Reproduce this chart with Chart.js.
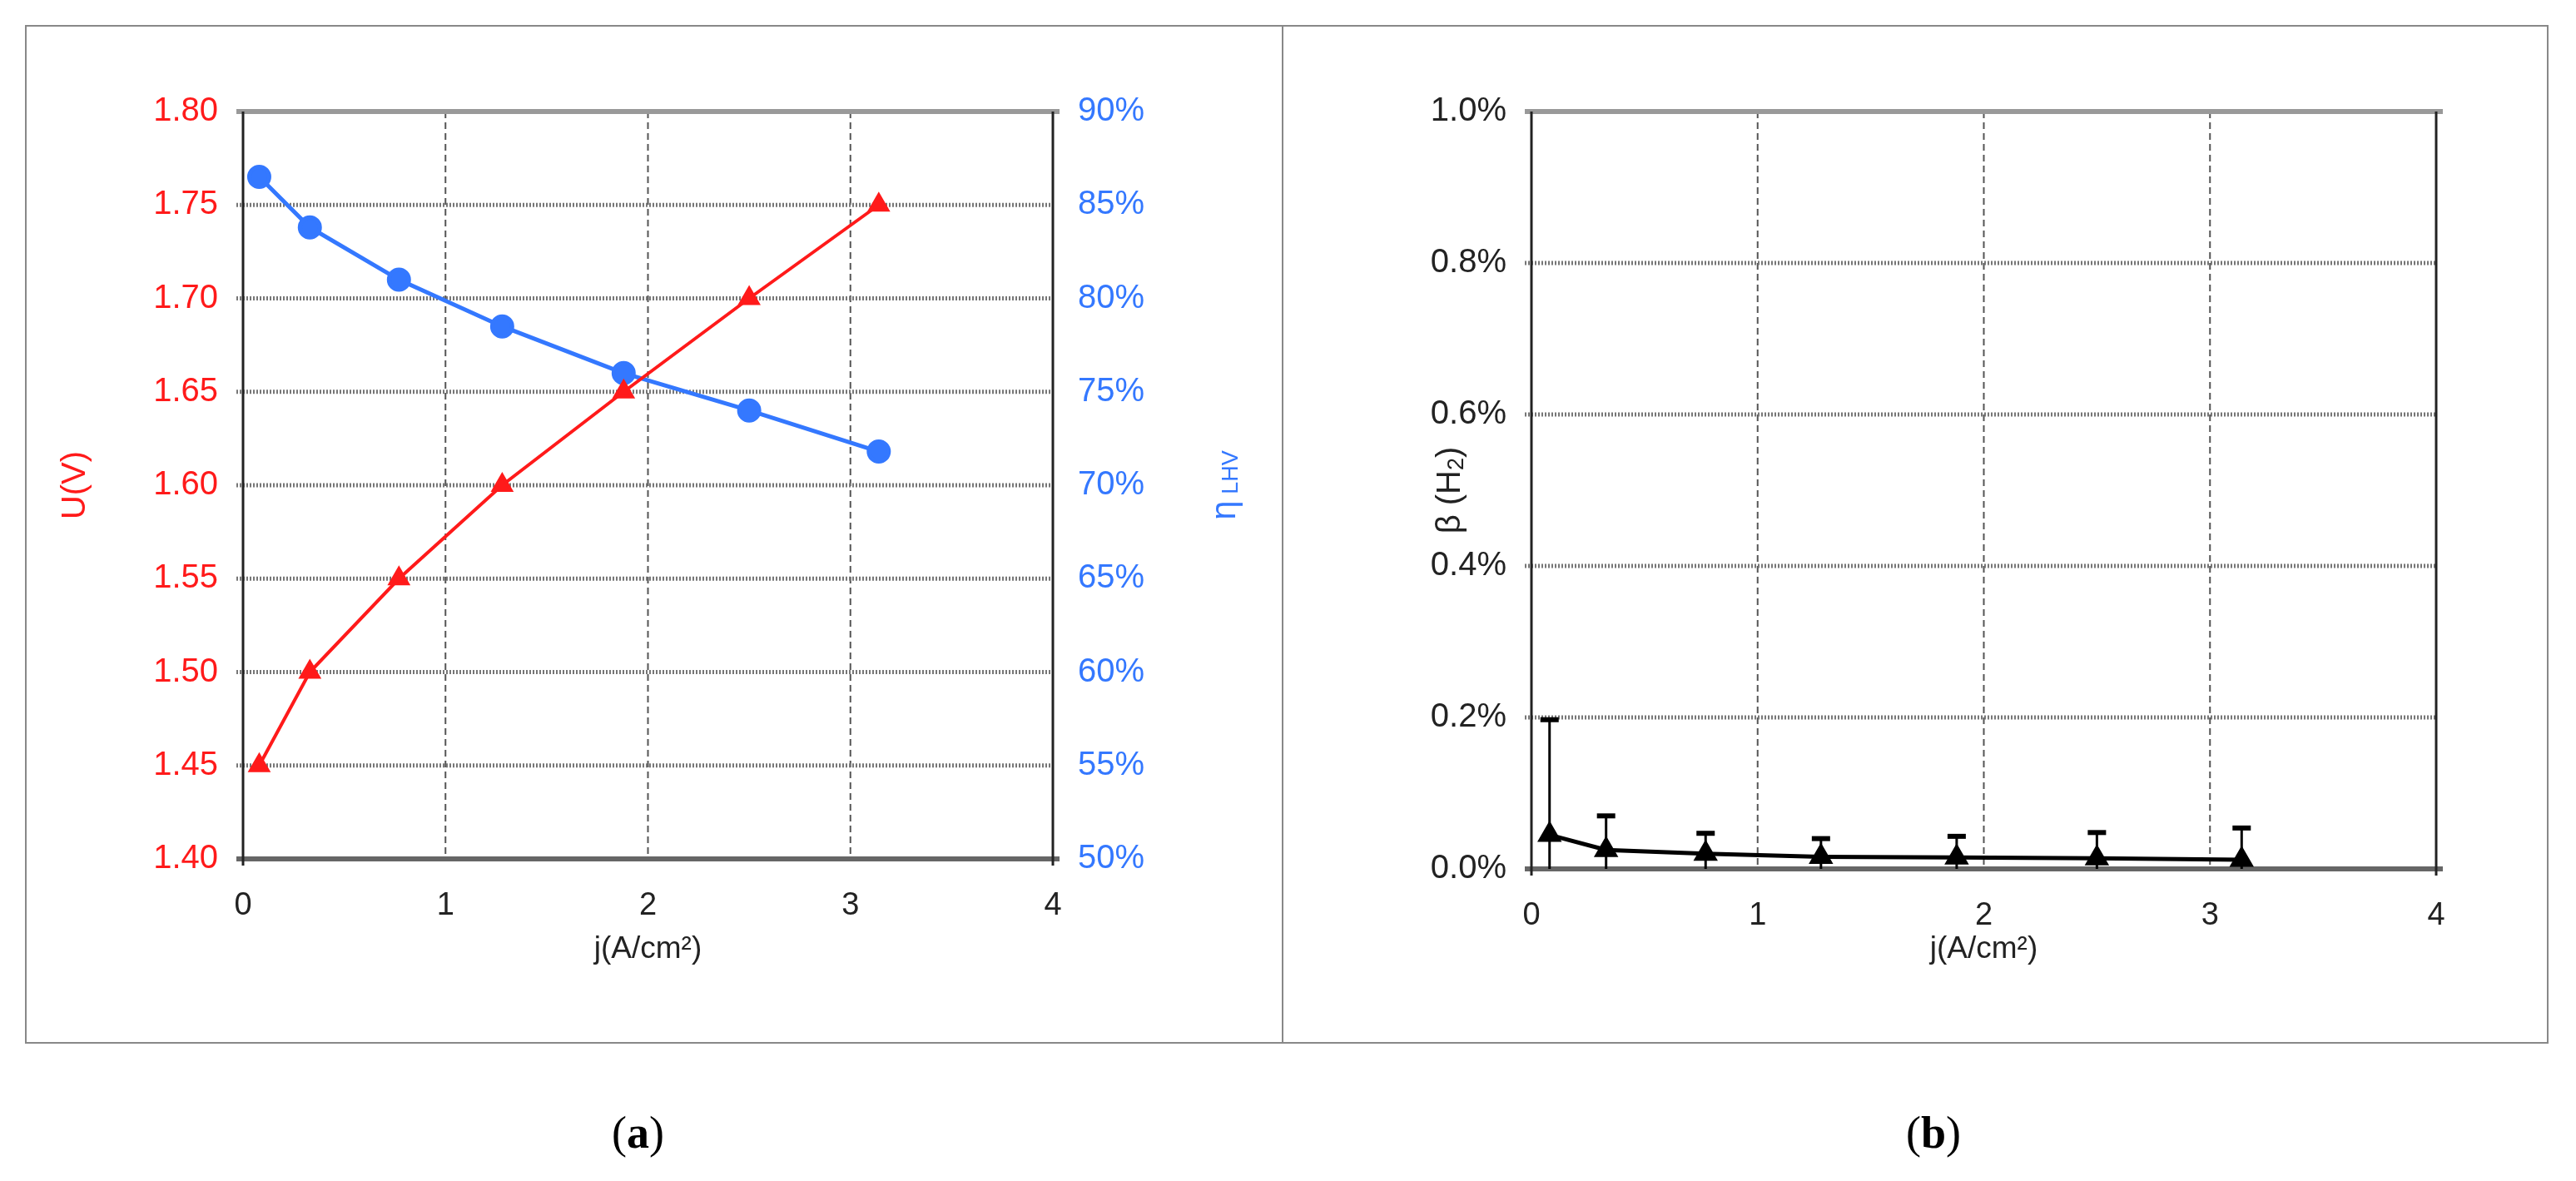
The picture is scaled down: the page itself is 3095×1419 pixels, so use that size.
<!DOCTYPE html>
<html>
<head>
<meta charset="utf-8">
<script src="https://cdn.jsdelivr.net/npm/chart.js@4"></script>
<style>
  body { margin: 0; background: #fff; width: 3095px; height: 1419px; position: relative; font-family: "Liberation Sans", Arial, sans-serif; }
  .box { position: absolute; top: 30px; height: 1224px; border: 2px solid #888; box-sizing: border-box; }
  canvas { position: absolute; left: 0; top: 0; }
  .lbl { position: absolute; top: 1330px; font-family: "Liberation Serif", "Times New Roman", serif; font-size: 54px; }
</style>
</head>
<body>
<div class="box" style="left:30px;width:1512px"><canvas id="chartA" width="1508" height="1220"></canvas></div>
<div class="box" style="left:1540px;width:1522px"><canvas id="chartB" width="1518" height="1220"></canvas></div>
<div class="lbl" style="left:735px">(<b>a</b>)</div>
<div class="lbl" style="left:2290px">(<b>b</b>)</div>
<script>
// current density, A/cm²
const jA = [0.08, 0.33, 0.77, 1.28, 1.88, 2.50, 3.14];
const cellVoltage = [1.45, 1.50, 1.55, 1.60, 1.65, 1.70, 1.75];
const efficiencyLHV = [86.5, 83.8, 81.0, 78.5, 76.0, 74.0, 71.8];
const jB = [0.08, 0.33, 0.77, 1.28, 1.88, 2.50, 3.14];
const betaH2 = [0.045, 0.025, 0.020, 0.016, 0.015, 0.014, 0.012];
const betaErrTop = [0.197, 0.070, 0.047, 0.040, 0.043, 0.048, 0.054];

const RED = '#ff1a1a';
const BLUE = '#3478ff';
const FONT = '"Liberation Sans", Arial, sans-serif';

// text with optional subscript, rotated
function drawRotated(ctx, x, y, parts, color) {
  ctx.save();
  ctx.translate(x, y);
  ctx.rotate(-Math.PI / 2);
  ctx.fillStyle = color;
  ctx.textBaseline = 'middle';
  let w = 0;
  parts.forEach(p => { ctx.font = p.size + 'px ' + FONT; w += ctx.measureText(p.t).width; });
  let cx = -w / 2;
  parts.forEach(p => {
    ctx.font = p.size + 'px ' + FONT;
    ctx.fillText(p.t, cx, p.dy || 0);
    cx += ctx.measureText(p.t).width;
  });
  ctx.restore();
}

function drawXTitle(chart) {
  const ctx = chart.ctx, a = chart.chartArea;
  ctx.save();
  ctx.fillStyle = '#222';
  ctx.font = '37px ' + FONT;
  ctx.textAlign = 'center';
  ctx.textBaseline = 'middle';
  ctx.fillText('j(A/cm²)', (a.left + a.right) / 2, 1109);
  ctx.restore();
}

const titlesA = {
  id: 'titlesA',
  afterDraw(chart) {
    const ctx = chart.ctx, a = chart.chartArea;
    const mid = (a.top + a.bottom) / 2;
    drawRotated(ctx, 59, mid, [{ t: 'U(V)', size: 40 }], RED);
    drawRotated(ctx, 1440, mid, [{ t: 'η', size: 42 }, { t: ' LHV', size: 27, dy: 8 }], BLUE);
    drawXTitle(chart);
  }
};

const titlesB = {
  id: 'titlesB',
  afterDraw(chart) {
    const ctx = chart.ctx, a = chart.chartArea;
    drawRotated(ctx, 201, (a.top + a.bottom) / 2,
      [{ t: 'β (H', size: 40 }, { t: '2', size: 27, dy: 8 }, { t: ')', size: 40 }], '#222');
    drawXTitle(chart);
  }
};

// vertical error bars with a top cap
const errorBars = {
  id: 'errorBars',
  afterDatasetsDraw(chart) {
    const ctx = chart.ctx, xs = chart.scales.x, ys = chart.scales.y;
    ctx.save();
    ctx.strokeStyle = '#000';
    ctx.lineWidth = 3;
    jB.forEach((j, i) => {
      const x = xs.getPixelForValue(j);
      const yTop = ys.getPixelForValue(betaErrTop[i]);
      const yLow = ys.getPixelForValue(Math.max(0, betaH2[i] - (betaErrTop[i] - betaH2[i])));
      ctx.beginPath();
      ctx.moveTo(x, yLow); ctx.lineTo(x, yTop);
      ctx.stroke();
      ctx.lineWidth = 6;
      ctx.beginPath();
      ctx.moveTo(x - 11, yTop); ctx.lineTo(x + 11, yTop);
      ctx.stroke();
      ctx.lineWidth = 3;
    });
    ctx.restore();
  }
};

// dotted heavy horizontal grid, dashed vertical grid
const gridLines = {
  id: 'gridLines',
  beforeDatasetsDraw(chart) {
    const ctx = chart.ctx, a = chart.chartArea, xs = chart.scales.x, ys = chart.scales.y;
    ctx.save();
    ctx.strokeStyle = '#555';
    ctx.lineWidth = 2;
    ctx.setLineDash([8, 5]);
    xs.ticks.forEach(t => {
      const x = xs.getPixelForValue(t.value);
      if (t.value > xs.min && t.value < xs.max) {
        ctx.beginPath(); ctx.moveTo(x, a.top); ctx.lineTo(x, a.bottom); ctx.stroke();
      }
    });
    ctx.strokeStyle = '#777';
    ctx.lineWidth = 5;
    ctx.setLineDash([2, 2]);
    ys.ticks.forEach(t => {
      const y = ys.getPixelForValue(t.value);
      if (t.value > ys.min && t.value < ys.max) {
        ctx.beginPath(); ctx.moveTo(a.left - 8, y); ctx.lineTo(a.right, y); ctx.stroke();
      }
    });
    ctx.setLineDash([]);
    ctx.strokeStyle = '#999';
    ctx.lineWidth = 6;
    ctx.beginPath(); ctx.moveTo(a.left - 8, a.top); ctx.lineTo(a.right + 8, a.top); ctx.stroke();
    ctx.strokeStyle = '#666';
    ctx.beginPath(); ctx.moveTo(a.left - 8, a.bottom); ctx.lineTo(a.right + 8, a.bottom); ctx.stroke();
    ctx.strokeStyle = '#222';
    ctx.lineWidth = 3;
    ctx.beginPath();
    ctx.moveTo(a.left, a.top); ctx.lineTo(a.left, a.bottom + 8);
    ctx.moveTo(a.right, a.top); ctx.lineTo(a.right, a.bottom + 8);
    ctx.stroke();
    ctx.restore();
  }
};

function xScale(height) {
  return {
    type: 'linear', min: 0, max: 4,
    ticks: { stepSize: 1, color: '#222', font: { size: 38, family: FONT }, padding: 26 },
    grid: { display: false }, border: { display: false },
    afterFit(s) { s.height = height; }
  };
}

new Chart(document.getElementById('chartA'), {
  type: 'scatter',
  data: {
    datasets: [{
      label: 'U',
      data: jA.map((j, i) => ({ x: j, y: cellVoltage[i] })),
      yAxisID: 'y', showLine: true,
      borderColor: RED, backgroundColor: RED, borderWidth: 4,
      pointStyle: 'triangle', pointRadius: 12
    }, {
      label: 'eta',
      data: jA.map((j, i) => ({ x: j, y: efficiencyLHV[i] })),
      yAxisID: 'y1', showLine: true,
      borderColor: BLUE, backgroundColor: BLUE, borderWidth: 5,
      pointStyle: 'circle', pointRadius: 12
    }]
  },
  options: {
    responsive: false, animation: false,
    layout: { padding: { top: 102, bottom: 0, left: 0, right: 0 } },
    plugins: { legend: { display: false }, tooltip: { enabled: false } },
    scales: {
      x: xScale(220),
      y: {
        position: 'left', min: 1.40, max: 1.80,
        ticks: { stepSize: 0.05, color: RED, font: { size: 40, family: FONT }, padding: 22,
          callback: v => v.toFixed(2) },
        grid: { display: false }, border: { display: false },
        afterFit(s) { s.width = 260; }
      },
      y1: {
        position: 'right', min: 50, max: 90,
        ticks: { stepSize: 5, color: BLUE, font: { size: 40, family: FONT }, padding: 22,
          callback: v => v + '%' },
        grid: { display: false }, border: { display: false },
        afterFit(s) { s.width = 275; }
      }
    }
  },
  plugins: [gridLines, titlesA]
});

new Chart(document.getElementById('chartB'), {
  type: 'scatter',
  data: {
    datasets: [{
      label: 'beta',
      data: jB.map((j, i) => ({ x: j, y: betaH2[i] })),
      showLine: true,
      borderColor: '#000', backgroundColor: '#000', borderWidth: 5,
      pointStyle: 'triangle', pointRadius: 12
    }]
  },
  options: {
    responsive: false, animation: false,
    layout: { padding: { top: 102, bottom: 0, left: 0, right: 133 } },
    plugins: { legend: { display: false }, tooltip: { enabled: false } },
    scales: {
      x: xScale(208),
      y: {
        min: 0, max: 1.0,
        ticks: { stepSize: 0.2, color: '#222', font: { size: 40, family: FONT }, padding: 22,
          callback: v => v.toFixed(1) + '%' },
        grid: { display: false }, border: { display: false },
        afterFit(s) { s.width = 298; }
      }
    }
  },
  plugins: [gridLines, errorBars, titlesB]
});
</script>
</body>
</html>
